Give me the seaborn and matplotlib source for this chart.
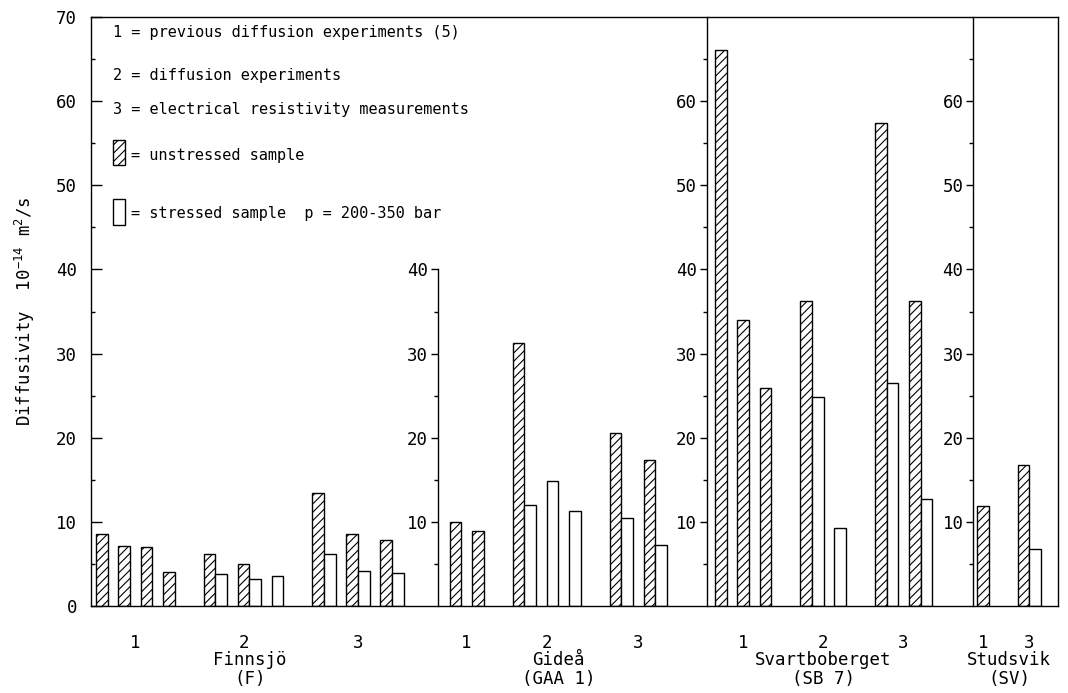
import numpy as np
import pandas as pd
import matplotlib
matplotlib.use("Agg")
import matplotlib.pyplot as plt
from matplotlib.patches import Rectangle
import seaborn as sns

nan = np.nan

# ---------------------------------------------------------------------------
# Data: diffusivity in 1e-14 m^2/s, one list per measurement method,
# one entry per sample (nan = no bar for that condition)
# ---------------------------------------------------------------------------
site_names = ["Finnsjö", "Gideå", "Svartboberget", "Studsvik"]
site_codes = ["(F)", "(GAA 1)", "(SB 7)", "(SV)"]
site_scale_top = [70, 40, 70, 70]

finnsjo_methods = ["1", "2", "3"]
finnsjo_unstressed = [[8.5, 7.1, 7.0, 4.1], [6.2, 5.0, nan], [13.4, 8.6, 7.8]]
finnsjo_stressed = [[nan, nan, nan, nan], [3.8, 3.25, 3.6], [6.2, 4.2, 3.95]]

gidea_methods = ["1", "2", "3"]
gidea_unstressed = [[10.0, 8.9], [31.2, nan, nan], [20.6, 17.3]]
gidea_stressed = [[nan, nan], [12.0, 14.9, 11.3], [10.4, 7.3]]

svartbo_methods = ["1", "2", "3"]
svartbo_unstressed = [[66.1, 34.0, 25.9], [36.3, nan], [57.4, 36.3]]
svartbo_stressed = [[nan, nan, nan], [24.8, 9.3], [26.5, 12.7]]

studsvik_methods = ["1", "3"]
studsvik_unstressed = [[11.9], [16.8]]
studsvik_stressed = [[nan], [6.75]]

legend_lines = [
    "1 = previous diffusion experiments (5)",
    "2 = diffusion experiments",
    "3 = electrical resistivity measurements",
]
legend_unstressed = "= unstressed sample"
legend_stressed = "= stressed sample  p = 200-350 bar"
y_label = "Diffusivity  10$^{-14}$ m$^{2}$/s"

sites = [
    (finnsjo_methods, finnsjo_unstressed, finnsjo_stressed),
    (gidea_methods, gidea_unstressed, gidea_stressed),
    (svartbo_methods, svartbo_unstressed, svartbo_stressed),
    (studsvik_methods, studsvik_unstressed, studsvik_stressed),
]

# ---------------------------------------------------------------------------
# Horizontal layout: bars of one sample touch, samples and methods are
# separated by gaps, each site gets its own vertical scale line
# ---------------------------------------------------------------------------
BAR_W = 11.6
SAMPLE_GAP = 10.8
GROUP_GAP = 29.0
PAD_LEFT = [5, 12, 8, 4]
PAD_RIGHT = [34, 40, 41, 17]

rows = []
axis_x, tick_pos, tick_lab, site_centers = [], [], [], []
cursor = 0.0
for s, (methods, unstr, strs) in enumerate(sites):
    axis_x.append(cursor)
    cursor += PAD_LEFT[s]
    site_start = cursor
    for g, method in enumerate(methods):
        if g > 0:
            cursor += GROUP_GAP
        g_start = cursor
        for i, (u, st) in enumerate(zip(unstr[g], strs[g])):
            if i > 0:
                cursor += SAMPLE_GAP
            for cond, val in (("unstressed", u), ("stressed", st)):
                if not np.isnan(val):
                    rows.append(dict(site=site_names[s], method=method,
                                     condition=cond, value=val,
                                     pos=cursor + BAR_W / 2))
                    cursor += BAR_W
        tick_pos.append((g_start + cursor) / 2)
        tick_lab.append(method)
    site_centers.append((site_start + cursor) / 2)
    cursor += PAD_RIGHT[s]
x_end = cursor

df = pd.DataFrame(rows)

# ---------------------------------------------------------------------------
# Figure
# ---------------------------------------------------------------------------
sns.set_style("ticks")
plt.rcParams["font.family"] = ["DejaVu Sans Mono", "DejaVu Sans"]
plt.rcParams["mathtext.default"] = "regular"
plt.rcParams["hatch.linewidth"] = 0.8
plt.rcParams["axes.linewidth"] = 1.0
for key in ("text.color", "axes.labelcolor", "xtick.color", "ytick.color",
            "axes.edgecolor", "xtick.labelcolor", "ytick.labelcolor"):
    plt.rcParams[key] = "black"

W, H = 1068, 693
fig = plt.figure(figsize=(W / 100, H / 100), dpi=100)
ax = fig.add_axes([91 / W, 1 - 606 / H, 967 / W, 589 / H])

sns.barplot(data=df, x="pos", y="value", hue="condition",
            hue_order=["unstressed", "stressed"],
            palette={"unstressed": "white", "stressed": "white"},
            native_scale=True, width=1.0, dodge=False, errorbar=None,
            edgecolor="black", linewidth=1.0, legend=False, ax=ax)

unstressed_pos = df.loc[df["condition"] == "unstressed", "pos"].to_numpy()
for p in ax.patches:
    cx = p.get_x() + p.get_width() / 2
    if np.any(np.isclose(unstressed_pos, cx, atol=0.5)):
        p.set_hatch("////")

ax.set_xlim(0, x_end)
ax.set_ylim(0, 70)
for sp in ax.spines.values():
    sp.set_visible(True)
    sp.set_color("black")

ax.set_yticks(range(0, 71, 10))
ax.set_yticks(range(5, 70, 10), minor=True)
ax.tick_params(axis="y", which="major", direction="in", length=8,
               width=1.0, pad=10, labelsize=12.5, colors="black")
ax.tick_params(axis="y", which="minor", direction="in", length=3, width=1.0)
ax.set_xticks(tick_pos, tick_lab)
ax.tick_params(axis="x", length=0, pad=20, labelsize=12.5, colors="black")
ax.set_xlabel("")
ax.set_ylabel(y_label, fontsize=12.5, color="black")
ax.yaxis.set_label_coords(-0.056, 0.5)

# separate scale lines for the following sites
for s in range(1, len(sites)):
    top = site_scale_top[s]
    sub = ax.inset_axes([axis_x[s], 0, 1, 1],
                        transform=ax.get_xaxis_transform())
    sub.set_xlim(0, 1)
    sub.set_ylim(0, 70)
    sub.patch.set_visible(False)
    for name in ("top", "right", "bottom"):
        sub.spines[name].set_visible(False)
    sub.spines["left"].set_bounds(0, top)
    sub.spines["left"].set_color("black")
    sub.set_xticks([])
    sub.set_yticks([v for v in range(10, top + 1, 10) if v < 70])
    sub.set_yticks(range(5, top, 10), minor=True)
    sub.tick_params(axis="y", which="major", direction="out", length=5,
                    width=1.0, pad=2, labelsize=12.5, colors="black")
    sub.tick_params(axis="y", which="minor", direction="out", length=3,
                    width=1.0, colors="black")

# site names under the method numbers
for name, code, cx in zip(site_names, site_codes, site_centers):
    ax.annotate(name, xy=(cx, 0), xycoords=ax.get_xaxis_transform(),
                xytext=(0, -39), textcoords="offset points",
                ha="center", va="center", fontsize=12.5)
    ax.annotate(code, xy=(cx, 0), xycoords=ax.get_xaxis_transform(),
                xytext=(0, -52.5), textcoords="offset points",
                ha="center", va="center", fontsize=12.5)

# key
for txt, yy in zip(legend_lines, [0.9745, 0.9015, 0.8438]):
    ax.text(0.0228, yy, txt, transform=ax.transAxes, ha="left",
            va="center", fontsize=11)
ax.add_patch(Rectangle((0.0228, 0.7487), 0.0124, 0.0425,
                       transform=ax.transAxes, facecolor="white",
                       edgecolor="black", lw=1.0, hatch="////"))
ax.text(0.041, 0.7657, legend_unstressed, transform=ax.transAxes,
        ha="left", va="center", fontsize=11)
ax.add_patch(Rectangle((0.0228, 0.6469), 0.0124, 0.0441,
                       transform=ax.transAxes, facecolor="white",
                       edgecolor="black", lw=1.0))
ax.text(0.041, 0.6672, legend_stressed, transform=ax.transAxes,
        ha="left", va="center", fontsize=11)

fig.savefig("out.png", dpi=100)
